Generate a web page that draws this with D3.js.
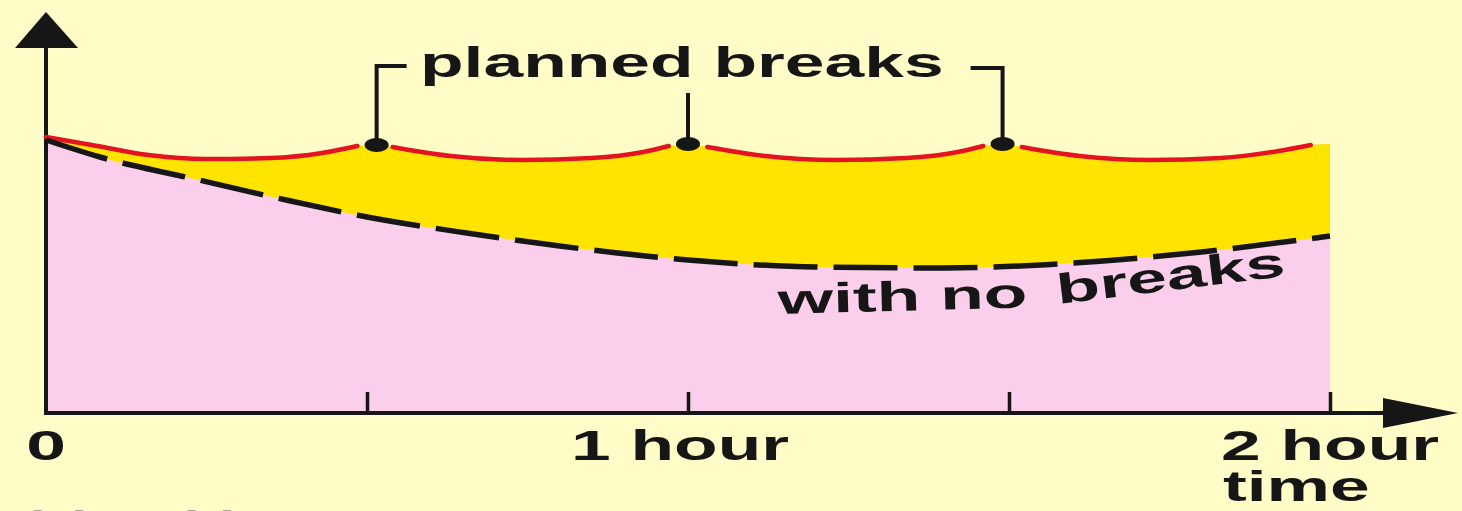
<!DOCTYPE html>
<html>
<head>
<meta charset="utf-8">
<title>Planned breaks</title>
<script src="https://cdn.jsdelivr.net/npm/d3@7"></script>
<style>
  body { margin: 0; background: #fffcc8; }
  svg { display: block; }
</style>
</head>
<body>
<script>
// time in hours, level in arbitrary units (0-100)
let plannedTimes = [0, 0.08, 0.16, 0.25, 0.35, 0.43, 0.485, 0.515, 0.54, 0.63, 0.74, 0.85, 0.93, 0.97,
  1.0, 1.03, 1.12, 1.23, 1.34, 1.42, 1.46, 1.49, 1.52, 1.61, 1.72, 1.83, 1.92, 1.97, 2.0]
let plannedLevels = [69, 66.75, 64.5, 63.5, 63.75, 65, 66.75, 67, 66.5, 64.25, 63.25, 63.75, 65.25, 66.75,
  67.25, 66.5, 64.25, 63.25, 63.75, 65.25, 66.75, 67.25, 66.5, 64.25, 63.25, 63.75, 65.5, 67, 67.25]

let noBreakTimes = [0, 0.084, 0.238, 0.374, 0.5, 0.655, 0.8, 1.0, 1.2, 1.4, 1.6, 1.8, 2.0]
let noBreakLevels = [68.25, 64, 58.25, 53.25, 49, 45, 41.75, 38.25, 36.5, 36.25, 37.5, 40.25, 44.25]

let breakTimes = [0.515, 1.0, 1.49]
let redSegments = [[0, 0.485], [0.54, 0.97], [1.03, 1.46], [1.52, 1.97]]

let tickValues = [0.5, 1, 1.5, 2]
let labelTimes = [0, 1, 2]
let labelTexts = ["0", "1 hour", "2 hour"]

let w = 1462
let h = 511
let sx = 1.7

let svg = d3.select("body")
  .append("svg")
  .attr("width", w)
  .attr("height", h)

svg.append("rect")
  .attr("width", w)
  .attr("height", h)
  .attr("fill", "#fffcc8")

let xScale = d3.scaleLinear()
  .domain([0, 2])
  .range([46, 1330])

let yScale = d3.scaleLinear()
  .domain([0, 100])
  .range([413, 13])

let planned = plannedTimes.map((t, i) => [t, plannedLevels[i]])
let noBreaks = noBreakTimes.map((t, i) => [t, noBreakLevels[i]])

let area = d3.area()
  .x(d => xScale(d[0]))
  .y0(yScale(0))
  .y1(d => yScale(d[1]))
  .curve(d3.curveMonotoneX)

let line = d3.line()
  .x(d => xScale(d[0]))
  .y(d => yScale(d[1]))
  .curve(d3.curveMonotoneX)

// yellow under the planned curve, pink painted over it under the no-break curve
svg.append("path").datum(planned).attr("d", area).attr("fill", "#ffe400")
svg.append("path").datum(noBreaks).attr("d", area).attr("fill", "#fbcfeb")

// axes
let ink = "#161616"
let x0 = xScale(0)
let y0 = yScale(0)

svg.append("line")
  .attr("x1", x0).attr("y1", y0 + 2)
  .attr("x2", x0).attr("y2", 46)
  .attr("stroke", ink).attr("stroke-width", 4)

svg.append("line")
  .attr("x1", x0 - 2).attr("y1", y0)
  .attr("x2", 1390).attr("y2", y0)
  .attr("stroke", ink).attr("stroke-width", 4)

svg.append("path")
  .attr("d", `M${x0},12 L${x0 - 31},48 L${x0 + 32},48 Z`)
  .attr("fill", ink)

svg.append("path")
  .attr("d", `M1458,${y0} L1383,${y0 - 15} L1383,${y0 + 15} Z`)
  .attr("fill", ink)

let xAxis = d3.axisBottom(xScale)
  .tickValues(tickValues)
  .tickSizeInner(-21)
  .tickSizeOuter(0)
  .tickFormat("")

let gx = svg.append("g")
  .attr("transform", `translate(0, ${y0})`)
  .call(xAxis)
gx.select(".domain").remove()
gx.selectAll(".tick line").attr("stroke", ink).attr("stroke-width", 3.5)

// red planned-break curve, broken at each break
redSegments.forEach(seg => {
  let pts = planned.filter(d => d[0] >= seg[0] - 1e-9 && d[0] <= seg[1] + 1e-9)
  svg.append("path")
    .datum(pts)
    .attr("d", line)
    .attr("fill", "none")
    .attr("stroke", "#e3141f")
    .attr("stroke-width", 4.5)
    .attr("stroke-linecap", "round")
})

// no-break dashed curve
svg.append("path")
  .datum(noBreaks)
  .attr("d", line)
  .attr("fill", "none")
  .attr("stroke", ink)
  .attr("stroke-width", 5.5)
  .attr("stroke-dasharray", "64,16")

// bracket for the label
let breakPts = breakTimes.map(t => planned.find(d => Math.abs(d[0] - t) < 1e-9))
let bx = breakPts.map(d => xScale(d[0]))
let by = breakPts.map(d => yScale(d[1]))

svg.append("path")
  .attr("d", `M${bx[0]},${by[0]} L${bx[0]},66 L${bx[0] + 30},66`)
  .attr("fill", "none").attr("stroke", ink).attr("stroke-width", 4)
svg.append("path")
  .attr("d", `M${bx[1]},${by[1]} L${bx[1]},93`)
  .attr("fill", "none").attr("stroke", ink).attr("stroke-width", 4)
svg.append("path")
  .attr("d", `M${bx[2]},${by[2]} L${bx[2]},68 L${bx[2] - 32},68`)
  .attr("fill", "none").attr("stroke", ink).attr("stroke-width", 4)

svg.selectAll(".brk")
  .data(breakPts)
  .enter()
  .append("ellipse")
  .attr("class", "brk")
  .attr("cx", d => xScale(d[0]))
  .attr("cy", d => yScale(d[1]))
  .attr("rx", 12)
  .attr("ry", 7)
  .attr("fill", ink)

// text (the figure is stretched sideways, so the letters are too)
function stretchText(txt, x, y, anchor, angle, size, color) {
  return svg.append("text")
    .attr("transform", `translate(${x},${y}) rotate(${angle || 0}) scale(${sx},1)`)
    .attr("text-anchor", anchor)
    .attr("font-family", "'Liberation Sans', Arial, sans-serif")
    .attr("font-weight", "bold")
    .attr("font-size", size || 42)
    .attr("fill", color || ink)
    .text(txt)
}

stretchText("planned breaks", 420, 77, "start")

labelTimes.forEach((t, i) => {
  stretchText(labelTexts[i], xScale(t) + (t == 1 ? -8 : 0), 460, "middle")
})
stretchText("time", 1223, 501, "start")

stretchText("with no", 778, 314, "start", -1.5)
stretchText("breaks", 1058, 304, "start", -7)

stretchText("(c) Keith", 23, 534, "start", 0, 34, "#a9a78e")
</script>
</body>
</html>
